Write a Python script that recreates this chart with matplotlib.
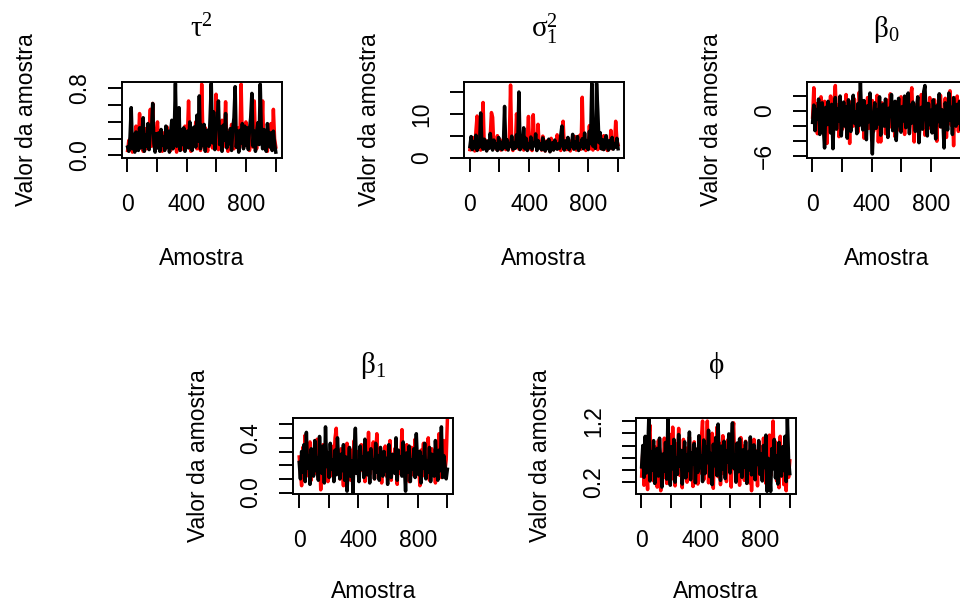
import numpy as np
import matplotlib
matplotlib.use("Agg")
import matplotlib.pyplot as plt

# ---- data: two MCMC chains per parameter (every ~8th draw)
n_draws = 1000

tau2_red = [
    0.06, 0.18, 0.09, 0.30, 0.04, 0.22, 0.12, 0.35, 0.07, 0.16, 0.50, 0.10, 0.25, 0.05, 0.20, 0.32, 0.08, 0.14, 0.28, 0.55, 0.11, 0.62, 0.19, 0.06, 0.24,
    0.40, 0.09, 0.21, 0.13, 0.05, 0.27, 0.16, 0.08, 0.34, 0.12, 0.23, 0.06, 0.30, 0.18, 0.10, 0.25, 0.04, 0.38, 0.14, 0.20, 0.07, 0.29, 0.11, 0.35, 0.09,
    0.22, 0.65, 0.15, 0.05, 0.28, 0.12, 0.20, 0.40, 0.08, 0.31, 0.17, 0.06, 0.85, 0.24, 0.10, 0.33, 0.14, 0.05, 0.27, 0.19, 0.36, 0.09, 0.23, 0.12, 0.73,
    0.18, 0.07, 0.30, 0.14, 0.42, 0.10, 0.25, 0.64, 0.16, 0.05, 0.29, 0.11, 0.37, 0.20, 0.08, 0.26, 0.13, 0.33, 0.06, 0.22, 0.85, 0.15, 0.09, 0.28, 0.40,
    0.12, 0.24, 0.06, 0.19, 0.31, 0.10, 0.65, 0.17, 0.08, 0.27, 0.14, 0.35, 0.21, 0.65, 0.09, 0.30, 0.13, 0.05, 0.25, 0.18, 0.38, 0.07, 0.55, 0.20, 0.10,
]
tau2_black = [
    0.10, 0.05, 0.22, 0.57, 0.08, 0.25, 0.04, 0.28, 0.12, 0.06, 0.33, 0.09, 0.28, 0.45, 0.05, 0.24, 0.11, 0.38, 0.07, 0.30, 0.30, 0.62, 0.14, 0.04, 0.26,
    0.09, 0.27, 0.05, 0.31, 0.12, 0.22, 0.06, 0.35, 0.10, 0.29, 0.04, 0.27, 0.42, 0.08, 0.26, 0.86, 0.11, 0.25, 0.57, 0.06, 0.31, 0.13, 0.33, 0.05, 0.28,
    0.29, 0.09, 0.40, 0.14, 0.06, 0.33, 0.34, 0.10, 0.48, 0.17, 0.71, 0.08, 0.36, 0.12, 0.37, 0.05, 0.30, 0.30, 0.11, 0.44, 0.86, 0.15, 0.52, 0.07, 0.38,
    0.40, 0.65, 0.13, 0.34, 0.05, 0.36, 0.18, 0.50, 0.09, 0.27, 0.14, 0.32, 0.06, 0.32, 0.45, 0.82, 0.10, 0.29, 0.04, 0.30, 0.15, 0.38, 0.08, 0.35, 0.12,
    0.33, 0.07, 0.31, 0.45, 0.74, 0.11, 0.29, 0.05, 0.28, 0.39, 0.13, 0.85, 0.24, 0.08, 0.31, 0.26, 0.05, 0.38, 0.22, 0.10, 0.27, 0.06, 0.29, 0.14, 0.04,
]

sigma2_red = [
    1.8, 3.2, 2.4, 4.5, 1.5, 6.0, 9.5, 2.1, 3.8, 1.7, 5.2, 12.6, 2.6, 4.0, 1.6, 3.4, 2.2, 4.8, 10.3, 9.2, 2.5, 3.7, 1.9, 5.0, 2.3,
    4.2, 1.7, 3.1, 2.4, 6.1, 1.8, 3.6, 2.0, 4.4, 16.6, 2.7, 1.6, 3.9, 2.3, 10.0, 5.6, 1.9, 3.2, 2.5, 4.6, 1.7, 3.0, 2.2, 4.1, 9.4,
    2.0, 3.5, 1.6, 9.8, 2.8, 4.3, 1.9, 7.6, 2.4, 3.3, 1.7, 4.9, 2.6, 1.5, 3.8, 2.1, 3.0, 1.4, 4.4, 2.3, 1.8, 3.6, 2.7, 5.2, 2.0,
    3.1, 1.6, 4.5, 8.3, 2.2, 3.4, 1.8, 2.9, 4.0, 1.5, 2.6, 3.7, 2.1, 4.8, 1.7, 3.2, 2.4, 5.1, 1.9, 13.8, 2.8, 4.2, 1.6, 3.5, 2.3,
    7.3, 2.0, 3.9, 1.7, 4.6, 2.5, 3.1, 1.8, 4.3, 2.2, 3.6, 1.9, 5.0, 2.7, 4.1, 1.6, 3.3, 2.4, 6.2, 2.0, 3.8, 2.6, 8.3, 4.0, 2.9,
]
sigma2_black = [
    2.5, 4.8, 1.8, 3.6, 2.2, 5.1, 1.6, 3.0, 2.4, 10.2, 3.3, 1.9, 4.2, 2.7, 1.5, 3.8, 2.1, 5.5, 2.9, 1.7, 4.0, 2.3, 3.1, 1.6, 4.6,
    2.0, 3.5, 1.8, 2.8, 11.7, 2.2, 4.1, 1.7, 3.2, 2.6, 4.9, 1.9, 3.4, 2.1, 5.2, 2.5, 15.0, 1.8, 3.7, 2.4, 6.8, 2.0, 4.4, 1.6, 3.0,
    2.3, 4.7, 1.9, 3.3, 2.7, 5.4, 1.6, 3.9, 2.2, 3.1, 1.8, 4.5, 2.5, 1.5, 3.6, 2.0, 4.2, 1.3, 2.8, 3.4, 1.7, 4.0, 2.4, 1.9, 3.2,
    2.1, 5.0, 7.2, 2.6, 1.7, 3.8, 2.3, 4.6, 1.8, 3.0, 2.5, 5.3, 1.9, 3.5, 2.2, 4.8, 1.6, 3.1, 2.7, 4.3, 2.0, 5.6, 2.4, 3.7, 1.8,
    6.0, 3.2, 17.0, 2.6, 7.8, 2.1, 17.0, 10.8, 3.4, 5.7, 2.0, 4.1, 1.8, 3.3, 5.0, 2.5, 1.7, 3.9, 2.2, 4.6, 1.9, 3.0, 2.4, 4.4, 2.0,
]

beta0_red = [
    -0.8, 3.1, -1.9, 1.0, -3.0, 0.4, -1.2, 1.9, -2.5, -0.3, 1.3, -1.7, -4.3, 0.6, -0.9, 2.0, -2.2, 0.1, 1.4, 3.4, -1.5, 0.8, -3.4, 1.7, -0.5,
    -2.4, 0.9, -1.0, 2.2, -3.2, 0.3, -4.3, 1.2, -0.7, -2.0, 1.6, -1.3, 0.5, -2.8, 2.5, -0.2, -1.8, 1.0, -3.6, 0.7, -0.9, 1.8, -2.3, 0.2, -1.1,
    1.4, -2.7, 0.0, -1.5, 2.1, -4.1, -0.6, -4.1, 1.1, -1.9, 0.6, -3.0, 1.5, -0.8, -2.2, 2.3, -0.4, -1.6, 0.9, -3.4, 1.2, -1.0, -2.5, 0.4, 1.9,
    -1.8, 0.7, -3.1, 1.3, -0.5, -2.0, 0.2, 2.0, 3.1, -1.4, -4.1, 0.8, -0.9, 1.6, -2.6, -0.1, 2.2, -1.7, 0.5, -3.2, 1.1, -0.7, -2.3, 1.8, -1.0,
    0.3, -2.8, 1.5, -0.6, -4.0, 0.9, -1.5, 2.1, -2.1, 0.1, -1.2, 1.7, -3.5, 0.6, -0.3, 2.7, -1.9, 0.4, -4.6, 1.0, -1.4, 2.0, -2.7, 0.8, -0.5,
]
beta0_black = [
    -1.5, 0.8, -2.6, 0.2, -1.0, 1.6, -3.1, -0.4, 1.1, -2.2, -4.9, 0.5, -1.8, 1.3, -0.6, -2.9, 0.9, -5.0, -0.2, 1.8, -2.4, 0.3, -1.3, 2.0, -3.3,
    -0.5, 1.2, -2.0, 0.6, -3.6, 1.5, -1.1, -2.7, 0.4, 2.1, -1.6, -0.1, -3.0, 1.0, -1.9, 3.8, -0.8, -2.5, 1.4, -0.3, -3.8, 0.7, -1.4, 2.4, -2.1,
    -5.7, -0.9, 1.1, -2.3, 0.2, -1.7, 1.9, -3.2, -0.6, 0.9, -2.0, 1.6, -1.2, -3.5, 0.4, -0.7, 2.2, -2.6, -1.0, 1.3, -3.9, -0.2, 1.7, -1.5, -2.8,
    0.6, -1.3, 2.0, -2.2, -0.4, 2.4, -3.0, 0.8, -1.6, 1.2, -0.8, -2.7, 0.3, 1.9, -4.2, -1.1, 0.5, -2.4, 2.6, 3.4, -0.9, -3.3, 1.0, -1.8, 0.1,
    -2.9, 1.5, -0.6, -3.7, 0.7, -1.4, 2.3, -2.1, 0.2, -1.0, -4.9, 1.1, -0.4, -2.5, 2.4, -1.2, 0.5, -3.1, 1.8, -0.7, -2.0, 0.9, -1.6, 1.3, -2.4,
]

beta1_red = [
    0.26, 0.15, 0.05, 0.33, 0.20, 0.42, 0.12, 0.28, 0.18, 0.37, 0.09, 0.24, 0.31, 0.14, 0.22, 0.39, 0.11, 0.29, 0.02, 0.25, 0.35, 0.13, 0.21, 0.30, 0.08,
    0.27, 0.17, 0.34, 0.12, 0.23, 0.40, 0.47, 0.16, 0.26, 0.10, 0.32, 0.19, 0.05, 0.28, 0.21, 0.36, 0.13, 0.25, 0.09, 0.31, 0.18, 0.38, 0.14, 0.22, 0.30,
    0.11, 0.27, 0.35, 0.16, 0.24, 0.08, 0.33, 0.19, 0.44, 0.13, 0.26, 0.21, 0.37, 0.10, 0.29, 0.43, 0.15, 0.23, 0.31, 0.07, 0.28, 0.18, 0.34, 0.12, 0.25,
    0.20, 0.38, 0.09, 0.27, 0.16, 0.32, 0.22, 0.06, 0.30, 0.14, 0.24, 0.46, 0.17, 0.28, 0.11, 0.35, 0.20, 0.08, 0.26, 0.33, 0.13, 0.23, 0.39, 0.15, 0.29,
    0.18, 0.05, 0.31, 0.22, 0.36, 0.12, 0.27, 0.17, 0.40, 0.09, 0.25, 0.32, 0.14, 0.21, 0.07, 0.34, 0.19, 0.43, 0.26, 0.11, 0.30, 0.38, 0.16, 0.24, 0.53,
]
beta1_black = [
    0.22, 0.10, 0.30, 0.15, 0.35, 0.08, 0.44, 0.18, 0.27, 0.06, 0.32, 0.20, 0.12, 0.38, 0.16, 0.25, 0.09, 0.41, 0.21, 0.14, 0.34, 0.07, 0.48, 0.19, 0.29,
    0.11, 0.36, 0.17, 0.24, 0.08, 0.31, 0.13, 0.40, 0.22, 0.10, 0.28, 0.16, 0.35, 0.09, 0.26, 0.01, 0.19, 0.33, 0.12, 0.23, 0.00, 0.30, 0.47, 0.14, 0.21,
    0.08, 0.34, 0.17, 0.26, 0.11, 0.39, 0.20, 0.13, 0.29, 0.07, 0.32, 0.18, 0.24, 0.10, 0.36, 0.15, 0.27, 0.09, 0.33, 0.21, 0.12, 0.30, 0.16, 0.25, 0.06,
    0.35, 0.19, 0.11, 0.28, 0.23, 0.14, 0.40, 0.09, 0.31, 0.18, 0.26, 0.12, 0.37, 0.20, 0.01, 0.29, 0.15, 0.34, 0.08, 0.24, 0.17, 0.32, 0.11, 0.43, 0.21,
    0.13, 0.30, 0.07, 0.26, 0.18, 0.36, 0.10, 0.23, 0.15, 0.33, 0.08, 0.28, 0.19, 0.12, 0.38, 0.22, 0.09, 0.31, 0.16, 0.48, 0.11, 0.27, 0.20, 0.10, 0.17,
]

phi_red = [
    0.30, 0.70, 0.15, 0.85, 0.42, 0.08, 0.95, 1.13, 0.36, 0.60, 0.22, 0.78, 0.48, 0.12, 0.88, 0.33, 0.06, 0.65, 0.27, 0.92, 0.50, 0.18, 0.74, 0.40, 0.98,
    0.25, 1.10, 0.45, 0.14, 0.82, 0.56, 1.08, 0.31, 0.69, 0.11, 0.90, 0.38, 0.76, 0.20, 0.62, 0.94, 0.28, 0.52, 0.13, 0.86, 0.43, 0.72, 0.17, 0.81, 0.35,
    0.91, 1.20, 0.24, 0.67, 0.47, 1.20, 0.19, 0.80, 0.39, 1.00, 0.10, 0.73, 0.54, 1.10, 0.29, 0.84, 0.16, 0.61, 0.96, 0.34, 0.77, 0.21, 0.89, 0.46, 0.70,
    0.12, 0.99, 1.17, 0.41, 0.83, 0.26, 0.68, 0.15, 0.93, 0.50, 0.79, 0.23, 0.87, 0.37, 0.64, 0.19, 0.74, 0.06, 0.57, 0.90, 0.32, 0.71, 0.14, 0.85, 0.44,
    0.78, 0.25, 0.92, 0.53, 0.18, 0.81, 0.40, 0.97, 0.30, 0.67, 1.20, 0.48, 0.86, 0.22, 0.74, 0.11, 0.95, 0.36, 0.62, 0.16, 0.83, 0.06, 0.70, 0.28, 0.55,
]
phi_black = [
    0.45, 0.80, 0.28, 0.95, 0.35, 0.62, 1.24, 0.22, 0.70, 0.40, 0.88, 0.18, 0.55, 0.75, 0.30, 0.92, 0.48, 0.12, 0.66, 0.38, 0.85, 0.25, 1.24, 0.52, 0.15,
    0.78, 0.42, 0.90, 0.20, 0.60, 0.33, 0.98, 0.46, 0.72, 0.17, 0.58, 0.86, 0.27, 0.65, 0.39, 1.02, 0.24, 0.68, 0.50, 0.83, 0.19, 0.74, 0.36, 0.96, 0.44,
    0.63, 0.21, 0.89, 0.34, 0.77, 0.52, 1.05, 0.29, 0.67, 0.16, 0.82, 0.47, 0.93, 0.31, 1.15, 0.56, 0.23, 0.79, 0.41, 0.87, 0.26, 0.71, 0.53, 0.99, 0.35,
    0.76, 1.17, 0.43, 0.64, 0.20, 0.84, 0.37, 0.91, 0.55, 0.28, 0.73, 0.45, 0.86, 0.18, 0.69, 0.40, 0.94, 0.32, 0.61, 0.81, 0.24, 0.70, 0.49, 0.88, 0.33,
    0.66, 0.22, 0.80, 0.44, 0.97, 0.05, 0.59, 0.36, 0.05, 0.75, 0.42, 0.90, 0.27, 0.63, 0.17, 0.85, 0.51, 0.30, 0.78, 0.39, 0.95, 0.21, 1.25, 0.58, 0.34,
]

x_ticks = [0, 200, 400, 600, 800, 1000]
x_tick_labels = ["0", "", "400", "", "800", ""]

titles = [r"$\mathrm{\tau}^\mathrm{2}$", r"$\mathrm{\sigma}_\mathrm{1}^\mathrm{2}$",
          r"$\mathrm{\beta}_\mathrm{0}$", r"$\mathrm{\beta}_\mathrm{1}$", r"$\mathrm{\phi}$"]
y_ticks = [
    [0.0, 0.2, 0.4, 0.6, 0.8],
    [0, 5, 10, 15],
    [-6, -4, -2, 0, 2],
    [0.0, 0.1, 0.2, 0.3, 0.4, 0.5],
    [0.2, 0.4, 0.6, 0.8, 1.0, 1.2],
]
y_tick_labels = [
    ["0.0", "", "", "", "0.8"],
    ["0", "", "10", ""],
    ["\u22126", "", "", "0", ""],
    ["0.0", "", "", "", "0.4", ""],
    ["0.2", "", "", "", "", "1.2"],
]
y_limits = [(-0.024, 0.876), (0.3, 17.3), (-6.17, 3.87), (-0.007, 0.545), (0.015, 1.25)]
chains = [
    (tau2_red, tau2_black),
    (sigma2_red, sigma2_black),
    (beta0_red, beta0_black),
    (beta1_red, beta1_black),
    (phi_red, phi_black),
]

# ---- layout in pixels (R-style layout: 3 on top, 2 centred below; 3rd panel runs off the right edge)
W, H = 960, 604
BOX_W, BOX_H = 160, 75.5
boxes = [(121.7, 82), (464, 82), (806.7, 82), (293.3, 418), (635.7, 418)]
xlab_base = [265, 265, 265, 598, 598]

plt.rcParams["font.family"] = ["Liberation Sans", "DejaVu Sans"]
plt.rcParams["mathtext.fontset"] = "custom"
plt.rcParams["mathtext.rm"] = "Liberation Serif"
plt.rcParams["mathtext.it"] = "Liberation Serif:italic"

LABEL_FS = 16.5
TITLE_FS = 21
LW = 2.5


def fx(px):
    return px / W


def fy(py):
    return 1 - py / H


fig = plt.figure(figsize=(W / 100, H / 100), dpi=100)

for k, (bx, by) in enumerate(boxes):
    ax = fig.add_axes([fx(bx), fy(by + BOX_H), BOX_W / W, BOX_H / H])
    red, black = chains[k]
    xr = np.linspace(1, n_draws, len(red))
    xb = np.linspace(1, n_draws, len(black))
    ax.plot(xr, red, color="#FF0000", lw=LW)
    ax.plot(xb, black, color="black", lw=LW)

    ax.set_xlim(1 - 0.04 * 999, n_draws + 0.04 * 999)
    ax.set_ylim(*y_limits[k])
    ax.set_xticks(x_ticks, x_tick_labels)
    ax.set_yticks(y_ticks[k], y_tick_labels[k])
    ax.tick_params(length=10, width=1.4, direction="out", labelsize=LABEL_FS)
    ax.tick_params(axis="x", pad=15.8)
    ax.tick_params(axis="y", pad=12.2, labelrotation=90)
    for lab in ax.get_yticklabels():
        lab.set_va("center")
    for s in ax.spines.values():
        s.set_linewidth(1.4)

    cx = bx + BOX_W / 2
    fig.text(fx(cx), fy(by - 45), titles[k], ha="center", va="baseline", fontsize=TITLE_FS)
    fig.text(fx(cx), fy(xlab_base[k]), "Amostra", ha="center", va="baseline", fontsize=LABEL_FS)
    fig.text(fx(bx - 88.4), fy(by + BOX_H / 2), "Valor da amostra", rotation=90,
             rotation_mode="anchor", ha="center", va="baseline", fontsize=LABEL_FS)

fig.savefig("out.png", dpi=100)
